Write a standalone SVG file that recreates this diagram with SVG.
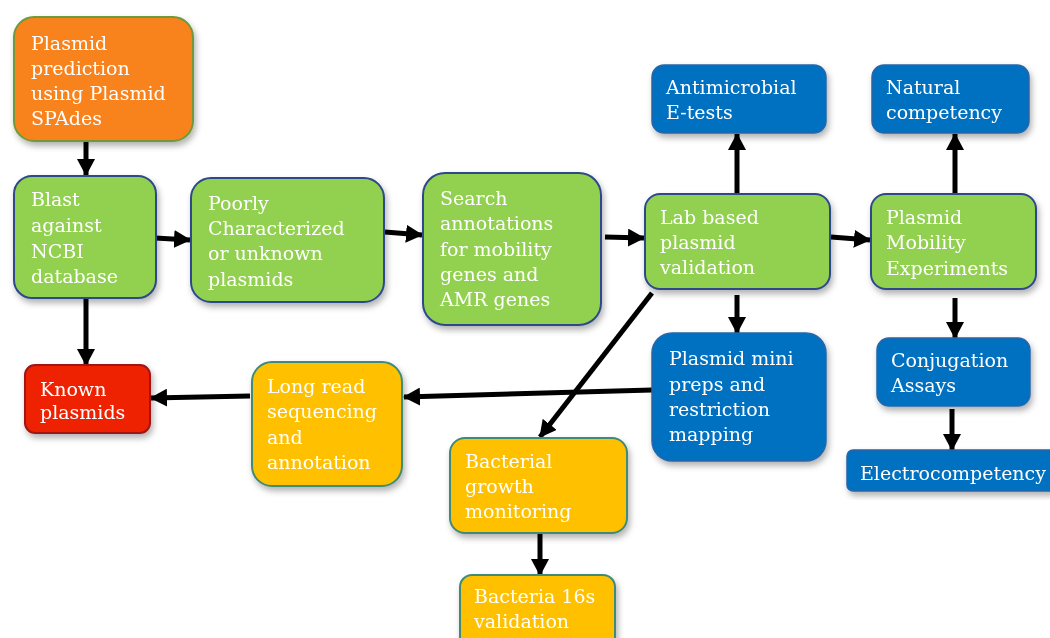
<svg xmlns="http://www.w3.org/2000/svg" width="1050" height="638" viewBox="0 0 1050 638">
<style>
.t{font-family:"DejaVu Serif","Liberation Serif",serif;font-size:19px;fill:#fff}
.g{fill:#92D050;stroke:#2F4A8A;stroke-width:2}
.o{fill:#F8821E;stroke:#6E9A3A;stroke-width:2}
.b{fill:#0070C0;stroke:#2A66A8;stroke-width:1.5}
.y{fill:#FFC000;stroke:#3F8A78;stroke-width:2}
.r{fill:#EE2200;stroke:#A01818;stroke-width:2}
.c{stroke:#000;stroke-width:5;fill:none;marker-end:url(#ah)}
</style>
<defs>
<marker id="ah" markerUnits="userSpaceOnUse" markerWidth="18" markerHeight="18" viewBox="0 0 18 18" refX="16" refY="9" orient="auto"><path d="M0,0 L17,9 L0,18 z" fill="#000"/></marker>
<filter id="sh" x="-10%" y="-10%" width="130%" height="130%"><feDropShadow dx="2" dy="4" stdDeviation="3" flood-color="#000" flood-opacity="0.3"/></filter>
</defs>
<g id="connectors">
<line class="c" x1="86" y1="141" x2="86" y2="175"/>
<line class="c" x1="86" y1="298" x2="86" y2="365"/>
<line class="c" x1="155" y1="238" x2="190" y2="240"/>
<line class="c" x1="385" y1="232" x2="422" y2="235"/>
<line class="c" x1="605" y1="237" x2="644" y2="238"/>
<line class="c" x1="737" y1="194" x2="737" y2="134"/>
<line class="c" x1="737" y1="295" x2="737" y2="333"/>
<line class="c" x1="831" y1="237" x2="870" y2="240"/>
<line class="c" x1="652" y1="293" x2="540" y2="437"/>
<line class="c" x1="652" y1="390" x2="404" y2="397"/>
<line class="c" x1="250" y1="396" x2="151" y2="398"/>
<line class="c" x1="955" y1="194" x2="955" y2="134"/>
<line class="c" x1="955" y1="298" x2="955" y2="338"/>
<line class="c" x1="952" y1="409" x2="952" y2="450"/>
<line class="c" x1="540" y1="533" x2="540" y2="575"/>
</g>
<g id="n1" filter="url(#sh)"><rect class="o" x="14" y="17" width="179" height="124" rx="20"/>
<text class="t" x="31"><tspan x="31" y="50">Plasmid</tspan><tspan x="31" y="75">prediction</tspan><tspan x="31" y="100">using Plasmid</tspan><tspan x="31" y="125">SPAdes</tspan></text></g>
<g id="n2" filter="url(#sh)"><rect class="g" x="14" y="176" width="142" height="122" rx="18"/>
<text class="t"><tspan x="31" y="206">Blast</tspan><tspan x="31" y="232">against</tspan><tspan x="31" y="258">NCBI</tspan><tspan x="31" y="283">database</tspan></text></g>
<g id="n3" filter="url(#sh)"><rect class="g" x="191" y="178" width="193" height="124" rx="20"/>
<text class="t"><tspan x="208" y="210">Poorly</tspan><tspan x="208" y="235">Characterized</tspan><tspan x="208" y="260">or unknown</tspan><tspan x="208" y="286">plasmids</tspan></text></g>
<g id="n4" filter="url(#sh)"><rect class="g" x="423" y="173" width="178" height="152" rx="22"/>
<text class="t"><tspan x="440" y="205">Search</tspan><tspan x="440" y="230">annotations</tspan><tspan x="440" y="256">for mobility</tspan><tspan x="440" y="281">genes and</tspan><tspan x="440" y="306">AMR genes</tspan></text></g>
<g id="n5" filter="url(#sh)"><rect class="g" x="645" y="194" width="185" height="95" rx="15"/>
<text class="t"><tspan x="660" y="224">Lab based</tspan><tspan x="660" y="249">plasmid</tspan><tspan x="660" y="274">validation</tspan></text></g>
<g id="n6" filter="url(#sh)"><rect class="b" x="652" y="65" width="174" height="68" rx="12"/>
<text class="t"><tspan x="666" y="94">Antimicrobial</tspan><tspan x="666" y="119">E-tests</tspan></text></g>
<g id="n7" filter="url(#sh)"><rect class="b" x="872" y="65" width="157" height="68" rx="12"/>
<text class="t"><tspan x="886" y="94">Natural</tspan><tspan x="886" y="119">competency</tspan></text></g>
<g id="n8" filter="url(#sh)"><rect class="g" x="871" y="194" width="165" height="95" rx="15"/>
<text class="t"><tspan x="886" y="224">Plasmid</tspan><tspan x="886" y="249">Mobility</tspan><tspan x="886" y="275">Experiments</tspan></text></g>
<g id="n9" filter="url(#sh)"><rect class="b" x="652" y="333" width="174" height="128" rx="20"/>
<text class="t"><tspan x="669" y="365">Plasmid mini</tspan><tspan x="669" y="391">preps and</tspan><tspan x="669" y="416">restriction</tspan><tspan x="669" y="441">mapping</tspan></text></g>
<g id="n10" filter="url(#sh)"><rect class="b" x="877" y="338" width="153" height="68" rx="12"/>
<text class="t"><tspan x="891" y="367">Conjugation</tspan><tspan x="891" y="392">Assays</tspan></text></g>
<g id="n11" filter="url(#sh)"><rect class="b" x="847" y="450" width="210" height="41" rx="6"/>
<text class="t" x="860" y="480">Electrocompetency</text></g>
<g id="n12" filter="url(#sh)"><rect class="r" x="25" y="365" width="125" height="68" rx="10"/>
<text class="t"><tspan x="40" y="396">Known</tspan><tspan x="40" y="419">plasmids</tspan></text></g>
<g id="n13" filter="url(#sh)"><rect class="y" x="252" y="362" width="150" height="124" rx="20"/>
<text class="t"><tspan x="267" y="393">Long read</tspan><tspan x="267" y="418">sequencing</tspan><tspan x="267" y="444">and</tspan><tspan x="267" y="469">annotation</tspan></text></g>
<g id="n14" filter="url(#sh)"><rect class="y" x="450" y="438" width="177" height="95" rx="15"/>
<text class="t"><tspan x="465" y="468">Bacterial</tspan><tspan x="465" y="493">growth</tspan><tspan x="465" y="518">monitoring</tspan></text></g>
<g id="n15" filter="url(#sh)"><rect class="y" x="460" y="575" width="155" height="75" rx="12"/>
<text class="t"><tspan x="474" y="603">Bacteria 16s</tspan><tspan x="474" y="628">validation</tspan></text></g>
</svg>
